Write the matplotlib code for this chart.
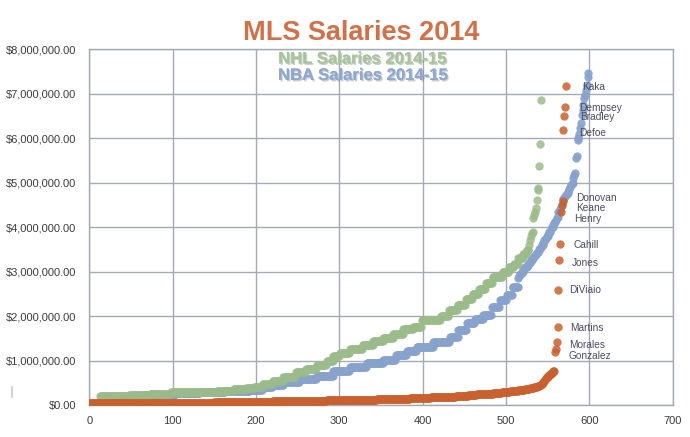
import matplotlib
matplotlib.use("Agg")
import matplotlib.pyplot as plt
import matplotlib.patheffects as pe
from matplotlib.lines import Line2D
from matplotlib.ticker import FuncFormatter

# ---------------- data (salaries in thousands of dollars, sorted ascending) -------------
# run-length encoded: value, number of players at that value
mls_run_values = [36.5, 48.5, 60, 70, 80, 90, 100, 110, 120, 130, 140, 150, 160, 175, 190,
                  205, 225, 240, 255, 270, 290, 310, 330, 350, 375, 400, 430,
                  450, 470, 490, 510, 540, 570, 600, 620, 640, 660, 680, 690, 700, 720, 740, 760]
mls_run_counts = [90, 60, 50, 20, 20, 15, 30, 30, 30, 25, 15, 15, 10, 15, 15,
                  15, 10, 10, 10, 10, 10, 10, 8, 6, 5, 4, 3,
                  2, 1, 1, 1, 1, 1, 1, 1, 1, 1, 1, 1, 1, 1, 1, 2]
mls_star_values = [1190, 1250, 1410, 1750, 2580, 3250, 3620, 4350, 4500, 4580, 6180, 6500, 6700, 7170]
mls_star_names = ["Gonzalez", "", "Morales", "Martins", "DiViaio", "Jones", "Cahill",
                  "Henry", "Keane", "Donovan", "Defoe", "Bradley", "Dempsey", "Kaka"]

nhl_run_values = [20, 195, 210, 230, 250, 285, 300, 325, 350, 380, 410, 470, 550, 640, 750, 800,
                  900, 1000, 1100, 1160, 1250, 1350, 1450, 1500, 1600, 1700, 1760, 1910, 2000,
                  2130, 2250, 2380, 2500, 2620, 2750, 2880, 3000, 3100, 3180, 3300, 3400, 3480,
                  3600, 3700, 3800, 3860, 3900, 4200, 4280, 4350, 4430, 4600, 4830, 4870,
                  5380, 5860, 6850]
nhl_run_counts = [13, 15, 20, 25, 25, 30, 25, 20, 15, 10, 10, 12, 13, 15, 12, 13,
                  12, 8, 8, 12, 15, 13, 12, 12, 12, 12, 10, 23, 10,
                  10, 10, 8, 8, 8, 8, 12, 8, 6, 5, 6, 4, 3,
                  1, 1, 1, 1, 1, 1, 1, 1, 1, 1, 1, 1,
                  1, 1, 1]

nba_run_values = [30, 60, 100, 150, 200, 230, 260, 285, 310, 340, 400, 460, 520, 590, 660, 760,
                  860, 940, 1010, 1120, 1220, 1310, 1420, 1530, 1690, 1840, 1930, 2020, 2200,
                  2360, 2470, 2650]
nba_run_counts = [20, 20, 15, 8, 15, 25, 30, 30, 30, 15, 12, 13, 20, 20, 20, 20,
                  20, 20, 15, 13, 12, 20, 20, 10, 10, 10, 10, 10, 10,
                  8, 7, 7]
nba_top_values = [2850, 2900, 2950, 2950, 3000, 3000, 3050, 3050, 3100, 3100,
                  3110, 3150, 3150, 3200, 3200, 3250, 3250, 3300, 3300, 3350, 3350, 3400,
                  3410, 3450, 3450, 3500, 3500, 3550, 3600, 3600, 3650, 3700, 3700, 3750,
                  3780, 3800, 3850, 3900, 3900, 3950, 4000, 4000, 4050, 4100,
                  4120, 4150, 4200, 4230, 4340, 4350, 4400, 4460, 4500, 4600,
                  4640, 4650, 4700, 4720, 4750, 4760, 4800, 4850, 4900, 4940,
                  4980, 5000, 5100, 5170, 5210, 5560, 5600, 5960, 6000, 6100, 6220,
                  6340, 6520, 6630, 6750, 6900, 6970, 7080, 7200, 7380, 7460]

x_ticks = [0, 100, 200, 300, 400, 500, 600, 700]
y_ticks = [0, 1e6, 2e6, 3e6, 4e6, 5e6, 6e6, 7e6, 8e6]

title_text = "MLS Salaries 2014"
nhl_text = "NHL Salaries 2014-15"
nba_text = "NBA Salaries 2014-15"

# label offsets in pixels (style only)
label_dx = [13, 0, 12.7, 12.8, 11, 12.5, 13.3, 13.5, 14, 13.4, 15.6, 15.8, 13.9, 16.5]
label_dy = [-3.6, 0, -2.7, -0.5, 0.3, -2.1, -0.9, -7.3, -3.3, 3.2, -2.3, -0.6, -0.5, -0.9]


def expand(values, counts):
    out = []
    for v, c in zip(values, counts):
        out.extend([v * 1000.0] * c)
    return out


mls = expand(mls_run_values, mls_run_counts) + [v * 1000.0 for v in mls_star_values]
nhl = expand(nhl_run_values, nhl_run_counts)
nba = expand(nba_run_values, nba_run_counts) + [v * 1000.0 for v in nba_top_values]

# ---------------- figure -------------
W, H = 690, 437
fig = plt.figure(figsize=(W / 100, H / 100), dpi=100)
L, R, T, B = 89.4, 672.5, 49.3, 405.0
ax = fig.add_axes([L / W, 1 - B / H, (R - L) / W, (B - T) / H])

c_orange = "#C8602F"
c_green = "#9CBB8B"
c_blue = "#88A2CC"
grid_c = "#A3AAB6"

ms = 36
ax.scatter(range(len(nba)), nba, s=ms, color=c_blue, alpha=0.9, linewidths=0, zorder=3)
ax.scatter(range(len(nhl)), nhl, s=ms, color=c_green, alpha=0.85, linewidths=0, zorder=4)
ax.scatter(range(len(mls)), mls, s=ms, color=c_orange, alpha=0.85, linewidths=0, zorder=5)

ax.set_xlim(0, 700)
ax.set_ylim(0, 8e6)
ax.set_xticks(x_ticks)
ax.set_yticks(y_ticks)
ax.yaxis.set_major_formatter(FuncFormatter(lambda v, p: "${:,.2f}".format(v)))
ax.grid(True, color=grid_c, lw=1.0, zorder=0)
ax.set_axisbelow(True)
for s in ax.spines.values():
    s.set_color(grid_c)
    s.set_linewidth(1.0)
ax.tick_params(length=0, labelsize=8, labelcolor="#3C3C3C")
ax.tick_params(axis="y", pad=9.5)
ax.tick_params(axis="x", pad=8)
for lab in ax.get_xticklabels() + ax.get_yticklabels():
    lab.set_family("Liberation Sans")

# player labels
n_body = len(mls) - len(mls_star_values)
for i, (name, v) in enumerate(zip(mls_star_names, mls_star_values)):
    if not name:
        continue
    ax.annotate(name, xy=(n_body + i, v * 1000.0), xytext=(label_dx[i], label_dy[i]),
                textcoords="offset pixels", ha="left", va="center",
                fontsize=7.3, family="Liberation Sans", color="#4C4C60", zorder=6)

# titles
fig.text(361 / W, 1 - 32.7 / H, title_text, ha="center", va="center",
         fontsize=19.5, fontweight="bold", family="Liberation Sans", color="#D2704A")
shadow = [pe.withSimplePatchShadow(offset=(1, -1), shadow_rgbFace="#555555", alpha=0.3), pe.Normal()]
fig.text(362 / W, 1 - 59 / H, nhl_text, ha="center", va="center", fontsize=12,
         fontweight="bold", family="Liberation Sans", color="#A8C49B", path_effects=shadow)
fig.text(362.5 / W, 1 - 75.5 / H, nba_text, ha="center", va="center", fontsize=12,
         fontweight="bold", family="Liberation Sans", color="#8FA8D0", path_effects=shadow)

fig.add_artist(Line2D([11.7 / W, 11.7 / W], [1 - 387 / H, 1 - 397 / H], color="#C8C8C8", lw=1.2))

fig.savefig("out.png", dpi=100)
